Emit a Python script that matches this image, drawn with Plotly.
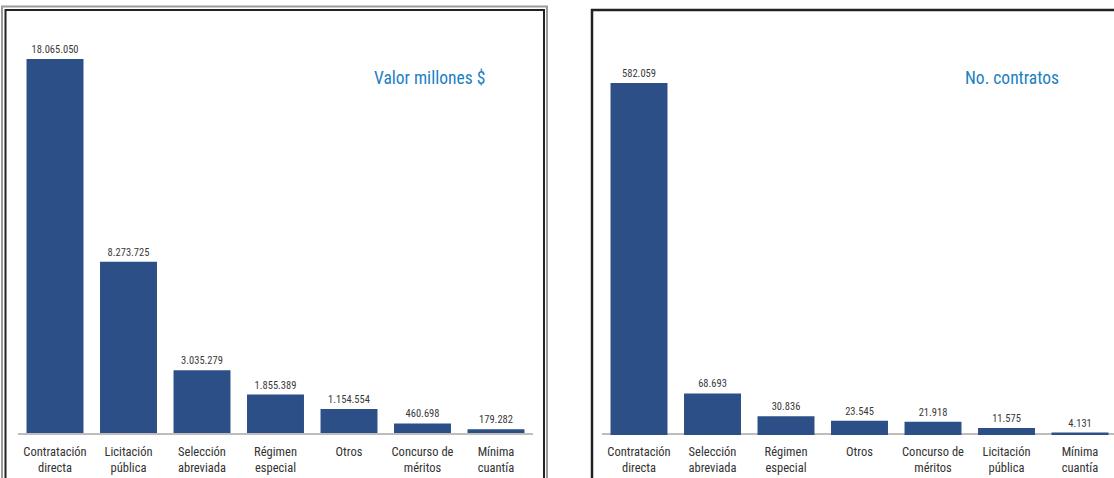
import plotly.graph_objects as go

# Data
cats_valor = ["Contratación<br>directa", "Licitación<br>pública", "Selección<br>abreviada",
              "Régimen<br>especial", "Otros", "Concurso de<br>méritos", "Mínima<br>cuantía"]
valor = [18065050, 8273725, 3035279, 1855389, 1154554, 460698, 179282]

cats_contr = ["Contratación<br>directa", "Selección<br>abreviada", "Régimen<br>especial",
              "Otros", "Concurso de<br>méritos", "Licitación<br>pública", "Mínima<br>cuantía"]
contratos = [582059, 68693, 30836, 23545, 21918, 11575, 4131]

title_valor = "Valor millones $"
title_contr = "No. contratos"

W, H = 1114, 478
FONT = "Liberation Sans Narrow, Arial Narrow, Roboto Condensed, Arial, sans-serif"
BAR = "#2b4f86"


def fmt(v):
    return f"{v:,}".replace(",", ".")


fig = go.Figure()
fig.add_trace(go.Bar(x=cats_valor, y=valor, text=[fmt(v) for v in valor],
                     textposition="outside", cliponaxis=False,
                     textfont=dict(size=10.5, color="#3a3a3a", family=FONT),
                     marker=dict(color=BAR, line=dict(width=0)),
                     xaxis="x", yaxis="y"))
fig.add_trace(go.Bar(x=cats_contr, y=contratos, text=[fmt(v) for v in contratos],
                     textposition="outside", cliponaxis=False,
                     textfont=dict(size=10.5, color="#3a3a3a", family=FONT),
                     marker=dict(color=BAR, line=dict(width=0)),
                     xaxis="x2", yaxis="y2"))

top_px = 20
ax_common = dict(showgrid=False, zeroline=False, ticks="", showline=True,
                 linecolor="#bdbdbd", linewidth=1.5, ticklabelstandoff=6,
                 layer="below traces",
                 tickfont=dict(size=12.5, color="#333", family=FONT), fixedrange=True)
ay_common = dict(showgrid=False, zeroline=False, showticklabels=False, showline=False, fixedrange=True)

fig.update_layout(
    width=W, height=H, margin=dict(l=0, r=0, t=0, b=0),
    paper_bgcolor="white", plot_bgcolor="white", showlegend=False,
    bargap=0.225,
    xaxis=dict(domain=[18.25 / W, 532.75 / W], range=[-0.5, 6.5], **ax_common),
    yaxis=dict(domain=[45 / H, (H - top_px) / H], range=[0, 18065050 * 413 / 374], **ay_common),
    xaxis2=dict(domain=[602.25 / W, 1], range=[-0.5, 6.5 - 2.75 / 73.5], **ax_common),
    yaxis2=dict(domain=[43 / H, (H - top_px) / H], range=[0, 582059 * 415 / 352], **ay_common),
    annotations=[
        dict(text=title_valor, x=429 / W, y=1 - 78 / H, xref="paper", yref="paper",
             xanchor="center", yanchor="middle",
             showarrow=False, font=dict(size=17.5, color="#1b7fc4", family=FONT)),
        dict(text=title_contr, x=1012 / W, y=1 - 78 / H, xref="paper", yref="paper",
             xanchor="center", yanchor="middle",
             showarrow=False, font=dict(size=17.5, color="#1b7fc4", family=FONT)),
    ],
    shapes=[
        # left panel frame: outer grey, inner dark
        dict(type="rect", xref="paper", yref="paper", x0=2 / W, x1=547 / W, y0=-0.1, y1=1 - 6.5 / H,
             line=dict(color="#9a9a9a", width=2), layer="above"),
        dict(type="rect", xref="paper", yref="paper", x0=5.5 / W, x1=544 / W, y0=-0.1, y1=1 - 10 / H,
             line=dict(color="#222", width=2), layer="above"),
        # right panel frame
        dict(type="rect", xref="paper", yref="paper", x0=592 / W, x1=1.05, y0=-0.1, y1=1 - 10 / H,
             line=dict(color="#222", width=2.5), layer="above"),
    ],
)

fig.write_html("out.html", config={"displayModeBar": False},
               post_script="document.body.style.margin='0';")
